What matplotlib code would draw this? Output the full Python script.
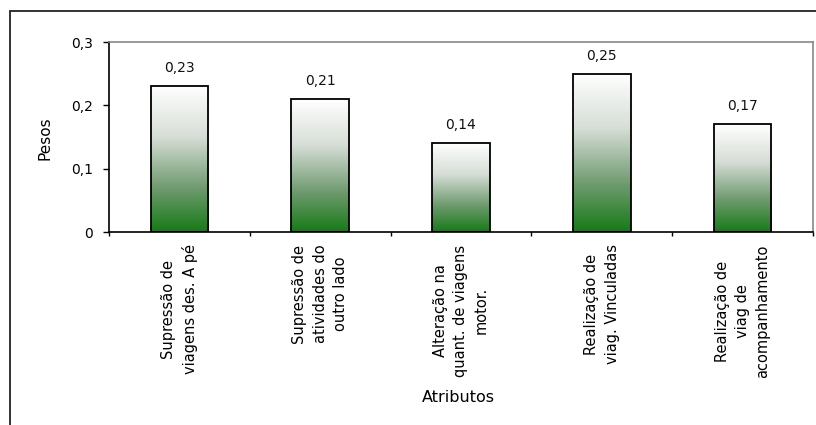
import numpy as np
import matplotlib
matplotlib.use("Agg")
import matplotlib.pyplot as plt
from matplotlib.colors import LinearSegmentedColormap
from matplotlib.patches import Rectangle

categories = [
    "Supressão de\nviagens des. A pé",
    "Supressão de\natividades do\noutro lado",
    "Alteração na\nquant. de viagens\nmotor.",
    "Realização de\nviag. Vinculadas",
    "Realização de\nviag de\nacompanhamento",
]
pesos = [0.23, 0.21, 0.14, 0.25, 0.17]
value_labels = ["0,23", "0,21", "0,14", "0,25", "0,17"]
yticks = [0, 0.1, 0.2, 0.3]
ytick_labels = ["0", "0,1", "0,2", "0,3"]

plt.rcParams["font.family"] = ["DejaVu Sans"]

W, H = 816, 425
fig = plt.figure(figsize=(W / 100, H / 100), dpi=100)
fig.patch.set_facecolor("white")

# outer chart frame (runs off the right and bottom edges)
fig.add_artist(Rectangle((10 / W, -0.1), 1.1, 1 - 11 / H + 0.1,
                         transform=fig.transFigure, fill=False,
                         edgecolor="#222222", linewidth=1.3))

ax = fig.add_axes([109 / W, 1 - 232 / H, (813 - 109) / W, (232 - 42) / H])

# vertical white -> green gradient for the bars
cmap = LinearSegmentedColormap.from_list(
    "fade", [(0.0, "#177a17"), (0.3, "#6f9a6f"), (0.65, "#d6ddd6"), (1.0, "#ffffff")])
grad = np.linspace(0, 1, 256).reshape(-1, 1)

width = 0.41
for i, (v, lab) in enumerate(zip(pesos, value_labels)):
    x0 = i + 0.5 - width / 2
    ax.imshow(grad, cmap=cmap, origin="lower", aspect="auto",
              extent=[x0, x0 + width, 0, v], zorder=2)
    ax.add_patch(Rectangle((x0, 0), width, v, fill=False,
                           edgecolor="black", linewidth=1.3, zorder=3))
    ax.annotate(lab, xy=(i + 0.5, v), xytext=(0, 8), textcoords="offset points",
                ha="center", va="bottom", fontsize=10, color="#111111")

ax.set_xlim(0, len(categories))
ax.set_ylim(0, 0.3)

ax.set_yticks(yticks)
ax.set_yticklabels(ytick_labels, fontsize=10)
ax.set_xticks(range(len(categories) + 1))
ax.set_xticklabels([])
ax.tick_params(axis="y", direction="out", length=4.5, width=1, pad=7)
ax.tick_params(axis="x", direction="out", length=3, width=1)

for i, cat in enumerate(categories):
    ax.annotate(cat, xy=(i + 0.5, 0), xytext=(0, -9), textcoords="offset points",
                rotation=90, ha="center", va="top", multialignment="center",
                fontsize=10.5, linespacing=1.45, annotation_clip=False)

for s in ("top", "right"):
    ax.spines[s].set_color("#888888")
    ax.spines[s].set_linewidth(1.2)
for s in ("left", "bottom"):
    ax.spines[s].set_color("black")
    ax.spines[s].set_linewidth(1.2)

fig.text(45 / W, 1 - 138 / H, "Pesos", rotation=90, ha="center", va="center",
         fontsize=11)
fig.text(458 / W, 1 - 398 / H, "Atributos", ha="center", va="center",
         fontsize=11.5)

fig.savefig("out.png", dpi=100, facecolor="white")
